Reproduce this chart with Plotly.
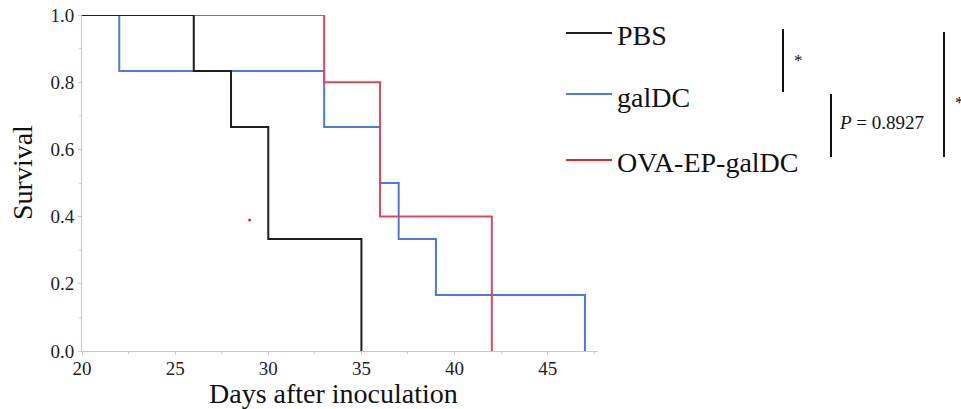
import plotly.graph_objects as go

# ---- data ----
groups = ["PBS", "galDC", "OVA-EP-galDC"]
pbs_days = [20, 26, 28, 30, 35]
pbs_surv = [1.0, 0.833, 0.667, 0.333, 0.0]
gal_days = [20, 22, 33, 36, 37, 39, 47]
gal_surv = [1.0, 0.833, 0.667, 0.5, 0.333, 0.167, 0.0]
ova_days = [20, 33, 36, 42]
ova_surv = [1.0, 0.8, 0.4, 0.0]
dot_x = [29.0]
dot_y = [0.39]
x_ticks = [20, 25, 30, 35, 40, 45]
y_ticks = [0.0, 0.2, 0.4, 0.6, 0.8, 1.0]
p_label = "<i>P</i> = 0.8927"

W, H = 961, 409
L, R, T, B = 82, 363, 15, 58
FONT = "Liberation Serif"

def px(x):
    return (x - L) / (W - L - R)

def py(y):
    return (H - B - y) / (H - T - B)

curve_colors = {"PBS": "#1e1e1e", "galDC": "#4c78e0", "OVA-EP-galDC": "#dc4a5a"}
legend_colors = {"PBS": "#1e1e1e", "galDC": "#4a7be8", "OVA-EP-galDC": "#e82028"}

fig = go.Figure()
series = {"PBS": (pbs_days, pbs_surv), "galDC": (gal_days, gal_surv), "OVA-EP-galDC": (ova_days, ova_surv)}
for name in ["galDC", "OVA-EP-galDC", "PBS"]:
    xs, ys = series[name]
    fig.add_trace(go.Scatter(x=xs, y=ys, mode="lines", line=dict(color=curve_colors[name], width=2, shape="hv"),
                             cliponaxis=False, showlegend=False, name=name))
fig.add_trace(go.Scatter(x=dot_x, y=dot_y, mode="markers", marker=dict(color="#e0202a", size=3),
                         showlegend=False))

axis_common = dict(showline=True, linecolor="#c8c8c8", linewidth=1, showgrid=False, zeroline=False,
                   ticks="outside", ticklen=3, tickcolor="#c8c8c8",
                   tickfont=dict(family=FONT, size=19, color="#222222"))
fig.update_xaxes(range=[20, 47.7], tickvals=x_ticks, ticktext=[str(v) for v in x_ticks],
                 ticklabelstandoff=-3,
                 minor=dict(dtick=2.5, tick0=20, ticks="outside", ticklen=2, tickcolor="#d0d0d0"),
                 **axis_common)
fig.update_yaxes(range=[0, 1.0], tickvals=y_ticks, ticktext=[f"{v:.1f}" for v in y_ticks],
                 minor=dict(dtick=0.1, tick0=0, ticks="outside", ticklen=2, tickcolor="#d0d0d0"),
                 **axis_common)

shapes = []
annotations = []
# legend
leg_y = {"PBS": 33, "galDC": 94, "OVA-EP-galDC": 160}
leg_text_y = {"PBS": 35, "galDC": 97, "OVA-EP-galDC": 162}
for g in groups:
    shapes.append(dict(type="line", xref="paper", yref="paper", x0=px(566), x1=px(612),
                       y0=py(leg_y[g]), y1=py(leg_y[g]), line=dict(color=legend_colors[g], width=2)))
    annotations.append(dict(text=g, xref="paper", yref="paper", x=px(615), y=py(leg_text_y[g]),
                            xanchor="left", yanchor="middle", showarrow=False,
                            font=dict(family=FONT, size=28, color="#111111")))
# brackets
for (bx, y0, y1) in [(783, 29, 92), (831, 94, 157), (944, 32, 157)]:
    shapes.append(dict(type="line", xref="paper", yref="paper", x0=px(bx), x1=px(bx),
                       y0=py(y0), y1=py(y1), line=dict(color="#111111", width=2)))
annotations.append(dict(text="*", xref="paper", yref="paper", x=px(792), y=py(61), xanchor="left",
                        yanchor="middle", showarrow=False, font=dict(family=FONT, size=17, color="#111111")))
annotations.append(dict(text="*", xref="paper", yref="paper", x=px(953), y=py(103), xanchor="left",
                        yanchor="middle", showarrow=False, font=dict(family=FONT, size=17, color="#111111")))
annotations.append(dict(text=p_label, xref="paper", yref="paper", x=px(837), y=py(123), xanchor="left",
                        yanchor="middle", showarrow=False, font=dict(family=FONT, size=19, color="#111111")))
# axis titles
annotations.append(dict(text="Days after inoculation", xref="paper", yref="paper", x=px(333), y=py(393),
                        xanchor="center", yanchor="middle", showarrow=False,
                        font=dict(family=FONT, size=28, color="#111111")))
annotations.append(dict(text="Survival", xref="paper", yref="paper", x=px(22), y=py(173), textangle=-90,
                        xanchor="center", yanchor="middle", showarrow=False,
                        font=dict(family=FONT, size=28, color="#111111")))

fig.update_layout(width=W, height=H, margin=dict(l=L, r=R, t=T, b=B, pad=0, autoexpand=False),
                  font=dict(family=FONT, color="#111111"),
                  plot_bgcolor="white", paper_bgcolor="white", showlegend=False,
                  shapes=shapes, annotations=annotations)
fig.write_html("out.html", config={"displayModeBar": False})
